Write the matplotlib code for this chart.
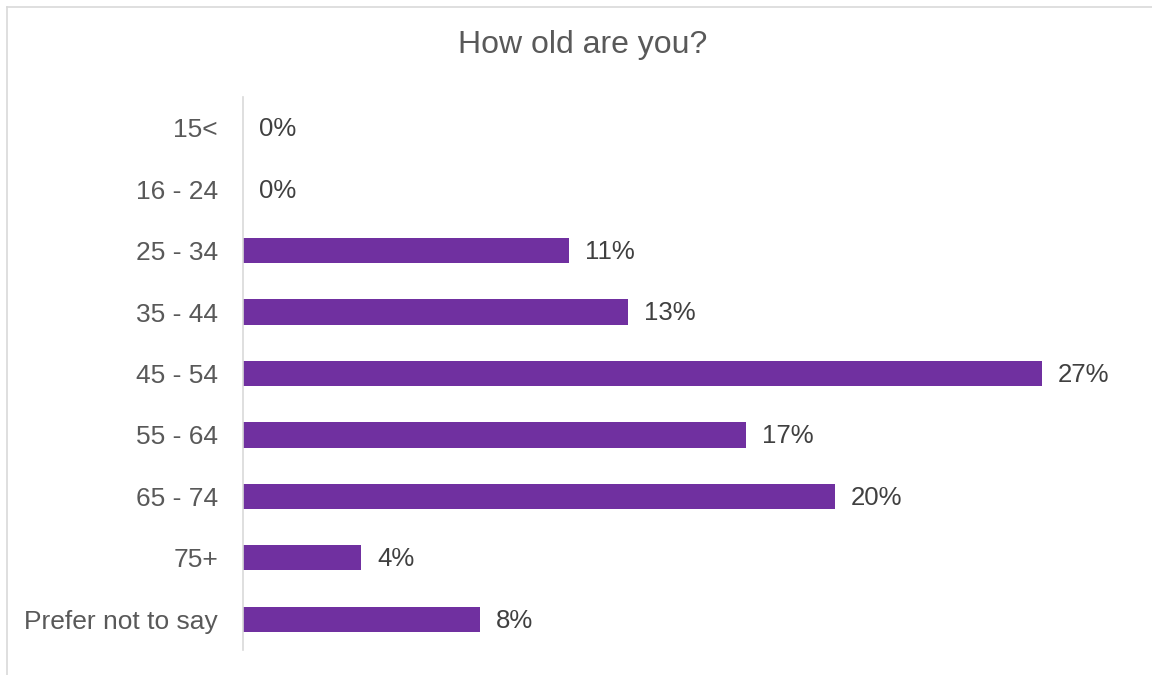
import matplotlib
matplotlib.use('Agg')
import matplotlib.pyplot as plt
from matplotlib.lines import Line2D

# data
categories = ['15<', '16 - 24', '25 - 34', '35 - 44', '45 - 54', '55 - 64', '65 - 74', '75+', 'Prefer not to say']
values = [0, 0, 11, 13, 27, 17, 20, 4, 8]
title = 'How old are you?'

plt.rcParams['font.family'] = ['Liberation Sans', 'DejaVu Sans']
txt = '#595959'
lbl = '#404040'
bar_col = '#7030A0'
grid_col = '#D9D9D9'

fig = plt.figure(figsize=(11.52, 6.75), dpi=100)
ax = fig.add_axes([243/1152, 1-650/675, 888/1152, 553/675])

ypos = list(range(len(categories)))
ax.barh(ypos, values, height=0.41, color=bar_col)
for y, v in zip(ypos, values):
    ax.annotate('%d%%' % v, (v, y), xytext=(11.5, -1), textcoords='offset points',
                va='center', ha='left', fontsize=18.5, color=lbl)

ax.set_xlim(0, 30)
ax.set_ylim(len(categories)-0.5, -0.5)
ax.set_yticks(ypos)
ax.set_yticklabels(categories, fontsize=19, color=txt)
ax.tick_params(axis='y', length=0, pad=18)
ax.set_xticks([])
for s in ['top', 'right', 'bottom']:
    ax.spines[s].set_visible(False)
ax.spines['left'].set_color(grid_col)
ax.spines['left'].set_linewidth(1.2)

fig.text(583/1152, 1-45/675, title, ha='center', va='center', fontsize=23, color=txt)

# chart area border (only left and top visible in the crop)
fig.add_artist(Line2D([7/1152, 7/1152], [0, 1-7/675], transform=fig.transFigure, color=grid_col, lw=1.2))
fig.add_artist(Line2D([7/1152, 1], [1-7/675, 1-7/675], transform=fig.transFigure, color=grid_col, lw=1.2))

fig.savefig('out.png', dpi=100)
